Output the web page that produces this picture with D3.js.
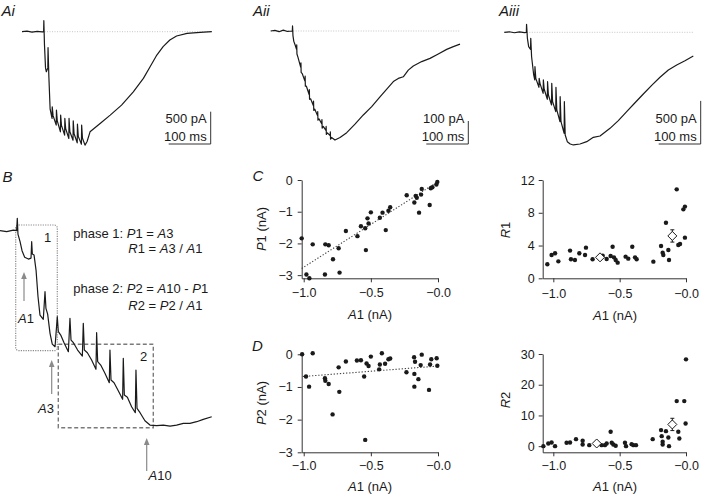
<!DOCTYPE html>
<html><head><meta charset="utf-8">
<script src="https://cdn.jsdelivr.net/npm/d3@7"></script>
<style>
body{margin:0;background:#fff}
svg{display:block}
text{font-family:"Liberation Sans",Arial,Helvetica,sans-serif;fill:#1a1a1a}
</style></head>
<body><svg id="c" width="702" height="494"></svg>
<script>
// ---------------- data ----------------
// current traces: [time (ms), current (pA)]
const traceAi = [[0,0],[12,8],[24,-6],[36,6],[48,-4],[51.5,0],[52,171],[53.5,-200],[56,-560],[58,-620],[61.5,-560],[62,-248],[64,-700],[67,-1200],[71.5,-1343],[72,-1162],[74,-1300],[81.5,-1446],[82,-1214],[84,-1380],[91.5,-1550],[92,-1291],[94,-1450],[101.5,-1601],[102,-1343],[104,-1500],[111.5,-1653],[112,-1343],[114,-1550],[121.5,-1679],[122,-1379],[124,-1580],[131.5,-1720],[132,-1431],[134,-1620],[141.5,-1741],[142,-1446],[144,-1650],[150,-1756],[155,-1700],[162,-1550],[186,-1420],[210,-1291],[237,-1136],[265,-930],[289,-723],[305,-542],[321,-361],[336,-232],[352,-129],[368,-67],[393,-26],[424,-10],[452,0]];
const traceAii = [[0,0],[10,3],[20,-3],[30,4],[40,-2],[51.5,0],[52,22],[53,-20],[55,-45],[58,-60],[61.5,-80],[62,-60],[62.5,-100],[65,-115],[71.5,-158],[72,-138],[72.5,-180],[75,-185],[81.5,-218],[82,-196],[82.5,-240],[85,-240],[91.5,-276],[92,-255],[92.5,-297],[95,-295],[101.5,-324],[102,-305],[102.5,-345],[105,-340],[111.5,-368],[112,-350],[112.5,-388],[115,-382],[121.5,-403],[122,-385],[122.5,-422],[125,-415],[131.5,-432],[132,-415],[132.5,-450],[135,-443],[141.5,-455],[142,-438],[142.5,-470],[145,-463],[153,-474],[165,-463],[181,-442],[200.7,-405],[220.5,-365],[240.5,-329],[260.2,-286],[280,-245],[292,-220],[303.8,-206],[315.7,-199],[327.6,-170],[339.5,-152],[359.5,-133],[379.3,-119],[399,-100],[419,-80],[434.8,-68],[450.7,-57]];
const traceAiii = [[0,0],[12,6],[24,-5],[36,5],[48,-4],[52.5,0],[53,93],[55,-70],[58,-167],[62.5,-197],[63,-70],[65,-283],[70,-495],[72.5,-553],[73,-399],[75,-534],[82.5,-638],[83,-534],[85,-592],[92.5,-708],[93,-553],[95,-661],[102.5,-777],[103,-573],[105,-727],[112.5,-843],[113,-592],[115,-805],[122.5,-921],[123,-638],[125,-901],[132.5,-1037],[133,-747],[135,-1037],[142.5,-1172],[143,-805],[145,-1191],[150,-1269],[157,-1296],[164.4,-1307],[180.2,-1296],[196.2,-1269],[212,-1218],[227.9,-1203],[251.7,-1114],[271.5,-1025],[291.4,-921],[311.2,-817],[331,-716],[350.9,-615],[370.7,-522],[390.6,-437],[410.5,-379],[430.2,-329],[450,-275]];
const traceB = [[0,0],[5.1,-8],[10.1,5],[12.6,0],[13.1,99],[13.6,-27],[15.2,-88],[16.7,-160],[18.7,-213],[21.5,-227],[23.5,-219],[24,-88],[24.5,-187],[25.8,-195],[27.3,-315],[28.8,-528],[30.3,-675],[32.8,-709],[34.1,-488],[34.8,-621],[36.1,-667],[37.9,-821],[39.6,-907],[41.7,-928],[43.4,-688],[44.2,-808],[46,-835],[48.5,-896],[51.8,-968],[53,-701],[53.8,-875],[55.6,-896],[58.8,-955],[62.4,-1003],[63.1,-741],[63.9,-955],[66.2,-976],[69.4,-1035],[72.7,-1109],[73.2,-816],[74,-1048],[76.3,-1075],[79.5,-1141],[82.8,-1216],[83.3,-955],[84.1,-1195],[86.4,-1216],[89.6,-1280],[92.9,-1349],[93.4,-1021],[94.2,-1315],[96.5,-1333],[99.7,-1408],[102.5,-1456],[103,-1115],[103.8,-1421],[106.1,-1456],[109.8,-1520],[113.6,-1555],[118.7,-1560],[123.7,-1555],[128.8,-1563],[133.8,-1555],[138.9,-1541],[143.9,-1541],[149,-1528],[154,-1509],[160.4,-1488]];

// panel C
const cA1 = [-1.015,-0.98,-0.958,-0.933,-0.839,-0.814,-0.842,-0.782,-0.74,-0.733,-0.686,-0.6,-0.574,-0.542,-0.525,-0.517,-0.537,-0.5,-0.433,-0.413,-0.389,-0.369,-0.356,-0.233,-0.176,-0.166,-0.158,-0.141,-0.121,-0.126,-0.062,-0.054,-0.042,-0.012,-0.005];
const cP1 = [-1.84,-2.98,-3.1,-2.03,-2.03,-2.06,-2.98,-2.5,-2.15,-2.92,-1.61,-1.77,-1.46,-1.52,-1.21,-1.37,-2.21,-1.02,-1.19,-1.03,-1.58,-0.97,-0.86,-0.48,-0.71,-0.5,-0.56,-1.03,-0.28,-0.46,-0.79,-0.26,-0.23,-0.14,-0.06];
const cFitX = [-1.015, 0], cFitY = [-2.79, -0.05];
// panel D
const dA1 = [-1.012,-0.933,-0.983,-0.96,-0.842,-0.839,-0.814,-0.785,-0.74,-0.735,-0.686,-0.604,-0.574,-0.55,-0.532,-0.517,-0.542,-0.5,-0.438,-0.433,-0.418,-0.394,-0.369,-0.356,-0.235,-0.178,-0.176,-0.171,-0.176,-0.146,-0.129,-0.121,-0.067,-0.059,-0.05,-0.01,-0.005];
const dP2 = [0,0.03,-0.68,-0.99,-0.73,-0.81,-0.91,-1.84,-0.4,-1.15,-0.22,-0.19,-0.18,-0.68,-0.28,-0.36,-2.62,-0.07,-0.46,-0.31,0.03,-0.29,-0.15,-0.13,-0.55,-0.09,-0.6,-0.23,-0.99,-0.76,-0.33,-0.01,-1.09,-0.31,-0.15,-0.12,-0.35];
const dFitX = [-1.007, 0], dFitY = [-0.68, -0.36];
// panel R1
const r1A1 = [-1.045,-1.013,-0.987,-0.962,-0.874,-0.867,-0.837,-0.804,-0.761,-0.754,-0.704,-0.628,-0.598,-0.553,-0.568,-0.543,-0.53,-0.515,-0.455,-0.435,-0.405,-0.384,-0.372,-0.246,-0.188,-0.176,-0.171,-0.151,-0.133,-0.128,-0.07,-0.058,-0.045,-0.02,-0.008,-0.008];
const r1Val = [1.71,2.85,3.05,2.07,3.38,2.32,2.24,3.05,2.85,3.74,2.32,2.76,2.36,3.86,2.73,2.56,2.24,1.91,2.64,2.4,3.86,2.56,2.32,2.03,3.95,3.13,2.85,6.79,3.46,2.24,10.86,4.07,4.19,8.42,8.75,4.96];
const r1MeanX = [-0.648, -0.103], r1Mean = [2.56, 5.17], r1Err = [0.25, 0.75];
// panel R2
const r2A1 = [-1.075,-1.038,-1.013,-0.987,-0.9,-0.874,-0.829,-0.779,-0.779,-0.729,-0.636,-0.611,-0.598,-0.568,-0.56,-0.548,-0.53,-0.46,-0.452,-0.41,-0.397,-0.377,-0.251,-0.188,-0.183,-0.176,-0.176,-0.151,-0.133,-0.128,-0.07,-0.058,-0.05,-0.013,0,-0.003];
const r2Val = [0,0.87,1.2,0,1.09,1.2,2.28,1.74,0.54,0.33,0.33,0.33,0.87,4.67,1.09,0.54,0.11,1.09,0,0.65,0.33,0.33,2.28,5.22,3.26,1.41,0.54,4.89,2.83,0,14.67,4.67,2.5,14.67,28.26,7.39];
const r2MeanX = [-0.673, -0.103], r2Mean = [0.87, 7.07], r2Err = [0.3, 2.0];

const xTicks = [-1.0, -0.5, 0];
const pTicks = [0, -1, -2, -3];
const r1Ticks = [0, 4, 8, 12];
const r2Ticks = [0, 10, 20, 30];

// ---------------- drawing ----------------
const svg = d3.select("#c");
const INK = "#1a1a1a", AX = "#333";

function label(g, x, y, parts, opts = {}) {
  const t = g.append("text").attr("x", x).attr("y", y)
    .attr("font-size", opts.size || 13)
    .attr("text-anchor", opts.anchor || "start");
  if (opts.rotate) t.attr("transform", `rotate(-90,${x},${y})`);
  parts.forEach(p => {
    const s = t.append("tspan").text(p[0]);
    if (p[1]) s.attr("font-style", "italic");
  });
  return t;
}

function trace(data, x, y, dotted) {
  if (dotted) {
    svg.append("line").attr("x1", x(0)).attr("x2", x(dotted)).attr("y1", y(0)).attr("y2", y(0))
      .attr("stroke", "#b8b8b8").attr("stroke-width", 0.8).attr("stroke-dasharray", "1,1.5");
  }
  svg.append("path").datum(data)
    .attr("d", d3.line().x(d => x(d[0])).y(d => y(d[1])))
    .attr("fill", "none").attr("stroke", INK).attr("stroke-width", 1.2).attr("stroke-linejoin", "round");
}

function scaleBar(x, y, xr, ms, pA, unit) {
  const x0 = xr, x1 = xr - (x(ms) - x(0));
  const yb = 144, yt = yb - (y(-pA) - y(0));
  svg.append("path").attr("d", `M${x1},${yb}H${x0}V${yt}`).attr("fill", "none").attr("stroke", AX).attr("stroke-width", 1);
  label(svg, x0 - 4, 122.5, [[pA + " " + unit]], {anchor: "end"});
  label(svg, x0 - 4, 141, [[ms + " ms"]], {anchor: "end"});
}

// Panel A traces
const xAi = d3.scaleLinear().domain([0, 100]).range([22, 64]);
const yAi = d3.scaleLinear().domain([0, -500]).range([31.7, 64]);
trace(traceAi, xAi, yAi, 452);
scaleBar(xAi, yAi, 210.7, 100, 500, "pA");
label(svg, 1.5, 16, [["A", true], ["i", true]], {size: 15});

const xAii = d3.scaleLinear().domain([0, 100]).range([270.7, 312.7]);
const yAii = d3.scaleLinear().domain([0, -100]).range([31, 54]);
trace(traceAii, xAii, yAii, 452);
scaleBar(xAii, yAii, 468.3, 100, 100, "pA");
label(svg, 253, 16, [["A", true], ["ii", true]], {size: 15});

const xAiii = d3.scaleLinear().domain([0, 100]).range([504.3, 546.3]);
const yAiii = d3.scaleLinear().domain([0, -500]).range([32.3, 75.4]);
trace(traceAiii, xAiii, yAiii, 450);
scaleBar(xAiii, yAiii, 700.7, 100, 500, "pA");
label(svg, 499, 16, [["A", true], ["iii", true]], {size: 15});

// Panel B
const xB = d3.scaleLinear().domain([0, 100]).range([0, 132]);
const yB = d3.scaleLinear().domain([0, -800]).range([230.7, 330.7]);
label(svg, 2.5, 182, [["B", true]], {size: 15});
svg.append("rect").attr("x", 15.7).attr("y", 225).attr("width", 41.6).attr("height", 125.7).attr("rx", 3)
  .attr("fill", "none").attr("stroke", "#8a8a8a").attr("stroke-width", 1.2).attr("stroke-dasharray", "1.2,1.2");
svg.append("rect").attr("x", 58.3).attr("y", 344.3).attr("width", 95).attr("height", 83.4)
  .attr("fill", "none").attr("stroke", "#7a7a7a").attr("stroke-width", 1.4).attr("stroke-dasharray", "4,2.5");
trace(traceB, xB, yB, 0);
label(svg, 44, 242, [["1"]]);
label(svg, 140, 361, [["2"]]);

function arrow(x, y1, y2) {
  svg.append("line").attr("x1", x).attr("x2", x).attr("y1", y1).attr("y2", y2 + 6)
    .attr("stroke", "#8a8a8a").attr("stroke-width", 1.2);
  svg.append("path").attr("d", `M${x - 2.8},${y2 + 7}L${x},${y2}L${x + 2.8},${y2 + 7}Z`).attr("fill", "#8a8a8a");
}
arrow(24, 301, 272);
arrow(51.7, 394, 360);
arrow(146.7, 471, 438);
label(svg, 18, 322.5, [["A", true], ["1"]]);
label(svg, 38, 412.5, [["A", true], ["3"]]);
label(svg, 148.5, 480, [["A", true], ["10"]]);

label(svg, 73.3, 237.5, [["phase 1: "], ["P", true], ["1 = "], ["A", true], ["3"]]);
label(svg, 128.3, 253, [["R", true], ["1 = "], ["A", true], ["3 / "], ["A", true], ["1"]]);
label(svg, 73.3, 293, [["phase 2: "], ["P", true], ["2 = "], ["A", true], ["10 - "], ["P", true], ["1"]]);
label(svg, 128.3, 309.5, [["R", true], ["2 = "], ["P", true], ["2 / "], ["A", true], ["1"]]);

// scatter panels
const fmtX = d => d === 0 ? "\u22120.0" : d3.format(".1f")(d).replace("-", "\u2212");
const fmtY = d => String(d).replace("-", "\u2212");

function axes(x, y, yTicks, xPad, yPad) {
  const ax = svg.append("g").attr("transform", `translate(0,${y.range()[0]})`)
    .call(d3.axisBottom(x).tickValues(xTicks).tickSize(4).tickSizeOuter(0).tickPadding(xPad).tickFormat(fmtX));
  const ay = svg.append("g").attr("transform", `translate(${x.range()[0]},0)`)
    .call(d3.axisLeft(y).tickValues(yTicks).tickSize(4).tickSizeOuter(0).tickPadding(yPad).tickFormat(fmtY));
  [ax, ay].forEach(a => {
    a.attr("font-size", 12.5).attr("font-family", null);
    a.selectAll("path,line").attr("stroke", AX).attr("stroke-width", 1);
    a.selectAll("text").attr("fill", INK);
  });
}
function dots(x, y, xs, ys) {
  svg.append("g").selectAll("circle").data(xs).join("circle")
    .attr("cx", d => x(d)).attr("cy", (d, i) => y(ys[i])).attr("r", 2.2).attr("fill", INK);
}
function fit(x, y, fx, fy) {
  svg.append("line").attr("x1", x(fx[0])).attr("y1", y(fy[0])).attr("x2", x(fx[1])).attr("y2", y(fy[1]))
    .attr("stroke", "#444").attr("stroke-width", 1.1).attr("stroke-dasharray", "1.3,1.8");
}
function means(x, y, mx, my, me) {
  mx.forEach((v, i) => {
    const cx = x(v), cy = y(my[i]), t = y(my[i] + me[i]), b = y(my[i] - me[i]);
    svg.append("path").attr("d", `M${cx},${t}V${b}M${cx - 2},${t}H${cx + 2}M${cx - 2},${b}H${cx + 2}`)
      .attr("stroke", INK).attr("stroke-width", 1).attr("fill", "none");
    svg.append("path").attr("d", `M${cx},${cy - 4.5}L${cx + 4.5},${cy}L${cx},${cy + 4.5}L${cx - 4.5},${cy}Z`)
      .attr("fill", "#fff").attr("stroke", INK).attr("stroke-width", 1);
  });
}

// C
const xC = d3.scaleLinear().domain([-1.015, 0]).range([301.7, 438]);
const yC = d3.scaleLinear().domain([-3.1, 0]).range([278.3, 180]);
axes(xC, yC, pTicks, 6, 5);
fit(xC, yC, cFitX, cFitY);
dots(xC, yC, cA1, cP1);
label(svg, 252.5, 181, [["C", true]], {size: 15});
label(svg, 370, 318.5, [["A", true], ["1 (nA)"]], {anchor: "middle"});
label(svg, 266, 229, [["P", true], ["1 (nA)"]], {anchor: "middle", rotate: true});

// D
const xD = d3.scaleLinear().domain([-1.015, 0]).range([301.7, 438]);
const yD = d3.scaleLinear().domain([-3, 0]).range([452.3, 354.3]);
axes(xD, yD, pTicks, 5, 5);
fit(xD, yD, dFitX, dFitY);
dots(xD, yD, dA1, dP2);
label(svg, 252, 351, [["D", true]], {size: 15});
label(svg, 370, 491, [["A", true], ["1 (nA)"]], {anchor: "middle"});
label(svg, 266, 403, [["P", true], ["2 (nA)"]], {anchor: "middle", rotate: true});

// R1
const xR1 = d3.scaleLinear().domain([-1.08, 0]).range([542.7, 686]);
const yR1 = d3.scaleLinear().domain([0, 12]).range([278.3, 180]);
axes(xR1, yR1, r1Ticks, 7, 4);
dots(xR1, yR1, r1A1, r1Val);
means(xR1, yR1, r1MeanX, r1Mean, r1Err);
label(svg, 615, 319.5, [["A", true], ["1 (nA)"]], {anchor: "middle"});
label(svg, 510, 230, [["R", true], ["1"]], {anchor: "middle", rotate: true});

// R2
const xR2 = d3.scaleLinear().domain([-1.08, 0]).range([542.7, 686]);
const yR2 = d3.scaleLinear().domain([-2, 30]).range([452.3, 354]);
axes(xR2, yR2, r2Ticks, 5, 4);
dots(xR2, yR2, r2A1, r2Val);
means(xR2, yR2, r2MeanX, r2Mean, r2Err);
label(svg, 615, 491, [["A", true], ["1 (nA)"]], {anchor: "middle"});
label(svg, 510, 400, [["R", true], ["2"]], {anchor: "middle", rotate: true});
</script>
</body></html>
